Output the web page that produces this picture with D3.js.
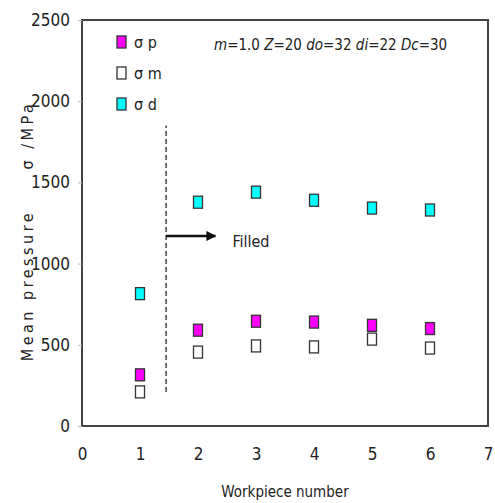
<!DOCTYPE html>
<html>
<head>
<meta charset="utf-8">
<script src="https://cdn.jsdelivr.net/npm/d3@7"></script>
<style>
  body { margin: 0; background: #fff; }
  text { font-family: "DejaVu Sans", sans-serif; font-stretch: condensed; fill: #222; }
</style>
</head>
<body>
<div id="chart"></div>
<script>
let workpieces = [1, 2, 3, 4, 5, 6];
let sigmaP = [315, 590, 645, 640, 620, 600];
let sigmaM = [210, 455, 493, 487, 535, 480];
let sigmaD = [815, 1378, 1440, 1390, 1342, 1330];
let xTicks = [0, 1, 2, 3, 4, 5, 6, 7];
let yTicks = [0, 500, 1000, 1500, 2000, 2500];
let seriesNames = ["σ p", "σ m", "σ d"];
let seriesColors = ["#ff00ff", "#ffffff", "#00ffff"];
let dividerX = 1.45;
let dividerRange = [210, 1850];
let arrowY = 1170;
let arrowEnd = 2.3;

let width = 495;
let height = 503;
let margin = { left: 82, right: 7, top: 20, bottom: 77 };

let svg = d3.select("#chart")
  .append("svg")
  .attr("width", width)
  .attr("height", height);

let x = d3.scaleLinear().domain([0, 7]).range([margin.left, width - margin.right]);
let y = d3.scaleLinear().domain([0, 2500]).range([height - margin.bottom, margin.top]);

// frame
svg.append("rect")
  .attr("x", x(0))
  .attr("y", y(2500))
  .attr("width", x(7) - x(0))
  .attr("height", y(0) - y(2500))
  .attr("fill", "none")
  .attr("stroke", "#444")
  .attr("stroke-width", 2);

// y axis
let yAxis = svg.append("g")
  .attr("transform", "translate(" + x(0) + ",0)")
  .call(d3.axisLeft(y).tickValues(yTicks).tickFormat(d3.format("d")).tickSize(4).tickPadding(8));
yAxis.attr("font-family", null);
yAxis.select(".domain").remove();
yAxis.selectAll("line").attr("stroke", "#bbb");
yAxis.selectAll("text").attr("font-size", 17);

// x axis
let xAxis = svg.append("g")
  .attr("transform", "translate(0," + y(0) + ")")
  .call(d3.axisBottom(x).tickValues(xTicks).tickFormat(d3.format("d")).tickSize(0).tickPadding(22));
xAxis.attr("font-family", null);
xAxis.select(".domain").remove();
xAxis.selectAll("text").attr("font-size", 17);

svg.append("text")
  .attr("x", 285)
  .attr("y", 497)
  .attr("text-anchor", "middle")
  .attr("font-size", 15)
  .text("Workpiece number");

svg.append("text")
  .attr("transform", "translate(33," + 231 + ") rotate(-90)")
  .attr("text-anchor", "middle")
  .attr("font-size", 16)
  .attr("letter-spacing", 3.5)
  .attr("xml:space", "preserve")
  .text("Mean pressure     σ /MPa");

// divider and arrow
svg.append("line")
  .attr("x1", x(dividerX)).attr("x2", x(dividerX))
  .attr("y1", y(dividerRange[0])).attr("y2", y(dividerRange[1]))
  .attr("stroke", "#444")
  .attr("stroke-width", 1.5)
  .attr("stroke-dasharray", "5,3");

svg.append("defs").append("marker")
  .attr("id", "arrow")
  .attr("viewBox", "0 0 10 10")
  .attr("refX", 9).attr("refY", 5)
  .attr("markerWidth", 4).attr("markerHeight", 4)
  .attr("orient", "auto")
  .append("path")
  .attr("d", "M0,0 L10,5 L0,10 Z")
  .attr("fill", "#111");

svg.append("line")
  .attr("x1", x(dividerX)).attr("x2", x(arrowEnd))
  .attr("y1", y(arrowY)).attr("y2", y(arrowY))
  .attr("stroke", "#111")
  .attr("stroke-width", 2.5)
  .attr("marker-end", "url(#arrow)");

svg.append("text")
  .attr("x", x(arrowEnd) + 17)
  .attr("y", y(arrowY) + 11)
  .attr("font-size", 16)
  .text("Filled");

// markers
let mw = 9, mh = 12;
let allSeries = [sigmaP, sigmaM, sigmaD];
allSeries.forEach(function (vals, s) {
  svg.append("g")
    .selectAll("rect")
    .data(vals)
    .join("rect")
    .attr("x", function (d, i) { return x(workpieces[i]) - mw / 2; })
    .attr("y", function (d) { return y(d) - mh / 2; })
    .attr("width", mw)
    .attr("height", mh)
    .attr("fill", seriesColors[s])
    .attr("stroke", "#333")
    .attr("stroke-width", 1.3);
});

// legend
let legend = svg.append("g").attr("transform", "translate(117,36)");
seriesNames.forEach(function (name, i) {
  legend.append("rect")
    .attr("x", 0).attr("y", i * 31)
    .attr("width", mw).attr("height", mh)
    .attr("fill", seriesColors[i])
    .attr("stroke", "#333")
    .attr("stroke-width", 1.3);
  legend.append("text")
    .attr("x", 17).attr("y", i * 31 + 12)
    .attr("font-size", 16)
    .attr("xml:space", "preserve")
    .text(name);
});

// parameters
let params = svg.append("text")
  .attr("x", 214)
  .attr("y", 50)
  .attr("font-size", 15)
  .attr("xml:space", "preserve");
[["m", true], ["=1.0 ", false], ["Z", true], ["=20 ", false], ["do", true], ["=32 ", false],
 ["di", true], ["=22 ", false], ["Dc", true], ["=30", false]].forEach(function (p) {
  params.append("tspan")
    .attr("font-style", p[1] ? "italic" : null)
    .text(p[0]);
});
</script>
</body>
</html>
